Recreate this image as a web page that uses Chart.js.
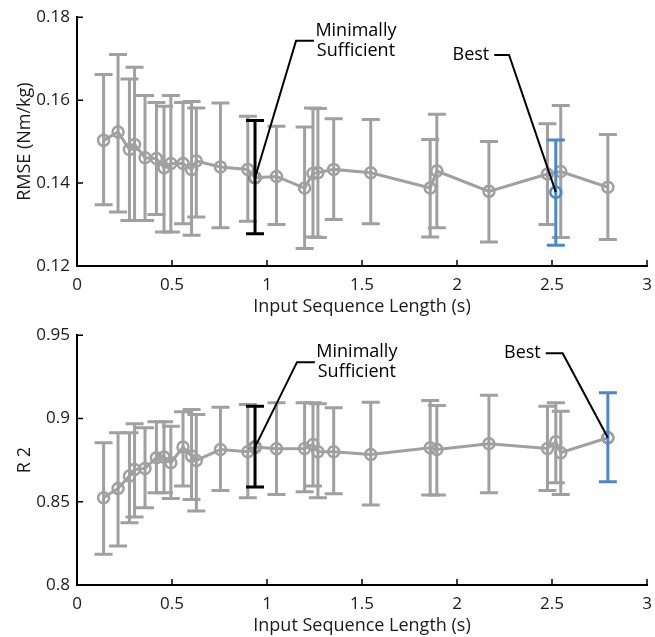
<!DOCTYPE html>
<html>
<head>
<meta charset="utf-8">
<script src="https://cdn.jsdelivr.net/npm/chart.js@4.4.1/dist/chart.umd.min.js"></script>
<style>
  html, body { margin: 0; padding: 0; background: #fff; }
  #wrap { position: relative; width: 655px; height: 637px; }
  canvas { position: absolute; left: 0; }
</style>
</head>
<body>
<div id="wrap">
  <canvas id="rmseChart" width="655" height="318" style="top:0"></canvas>
  <canvas id="r2Chart" width="655" height="319" style="top:318px"></canvas>
</div>
<script>
// sequence lengths (s), shared by both panels
const seqLen = [0.14, 0.216, 0.276, 0.303, 0.358, 0.418, 0.458, 0.494, 0.558, 0.603, 0.628, 0.755, 0.899, 0.937,
  1.05, 1.198, 1.242, 1.268, 1.351, 1.546, 1.859, 1.894, 2.168, 2.476, 2.52, 2.546, 2.794];

// RMSE (Nm/kg): mean and error bar ends
const rmseMean = [0.1503, 0.1523, 0.1481, 0.1493, 0.1461, 0.1459, 0.1437, 0.1447, 0.1447, 0.1433, 0.1453, 0.1439, 0.1433, 0.1413,
  0.1416, 0.1388, 0.1423, 0.1425, 0.1433, 0.1425, 0.1388, 0.1429, 0.1380, 0.1422, 0.1378, 0.1428, 0.1390];
const rmseHi = [0.1662, 0.1710, 0.1651, 0.1679, 0.1611, 0.1594, 0.1585, 0.1611, 0.1594, 0.1597, 0.1581, 0.1593, 0.1561, 0.1551,
  0.1537, 0.1535, 0.1581, 0.1580, 0.1555, 0.1553, 0.1505, 0.1566, 0.1500, 0.1543, 0.1504, 0.1587, 0.1517];
const rmseLo = [0.1348, 0.1330, 0.1310, 0.1310, 0.1310, 0.1324, 0.1282, 0.1282, 0.1302, 0.1274, 0.1318, 0.1292, 0.1308, 0.1278,
  0.1300, 0.1242, 0.1270, 0.1269, 0.1312, 0.1302, 0.1270, 0.1292, 0.1258, 0.1300, 0.1250, 0.1269, 0.1264];

// R^2: mean and error bar ends
const r2Mean = [0.8524, 0.8580, 0.8654, 0.8694, 0.8700, 0.8764, 0.8768, 0.8734, 0.8828, 0.8774, 0.8748, 0.8814, 0.8800, 0.8828,
  0.8818, 0.8820, 0.8844, 0.8800, 0.8800, 0.8784, 0.8824, 0.8814, 0.8848, 0.8820, 0.8860, 0.8794, 0.8884];
const r2Hi = [0.8854, 0.8914, 0.8914, 0.8968, 0.8944, 0.8980, 0.8980, 0.8954, 0.9040, 0.9054, 0.9024, 0.9068, 0.9084, 0.9074,
  0.9094, 0.9094, 0.9094, 0.9088, 0.9064, 0.9098, 0.9108, 0.9078, 0.9140, 0.9074, 0.9094, 0.9044, 0.9154];
const r2Lo = [0.8184, 0.8234, 0.8374, 0.8408, 0.8464, 0.8554, 0.8554, 0.8520, 0.8594, 0.8514, 0.8444, 0.8568, 0.8524, 0.8588,
  0.8544, 0.8560, 0.8594, 0.8524, 0.8548, 0.8480, 0.8540, 0.8540, 0.8554, 0.8568, 0.8614, 0.8544, 0.8620];

// highlighted models
const minSuffIdx = 13;
const bestRmseIdx = 24;
const bestR2Idx = 26;

// tick values and labels
const xTicks = [0, 0.5, 1, 1.5, 2, 2.5, 3];
const xTickLabels = ['0', '0.5', '1', '1.5', '2', '2.5', '3'];
const rmseTicks = [0.12, 0.14, 0.16, 0.18];
const rmseTickLabels = ['0.12', '0.14', '0.16', '0.18'];
const r2Ticks = [0.8, 0.85, 0.9, 0.95];
const r2TickLabels = ['0.8', '0.85', '0.9', '0.95'];

const GRAY = '#a0a0a0';
const BLUE = '#4a88c9';
const BLACK = '#000000';
const FONT = '"Open Sans", "DejaVu Sans", sans-serif';
const TICK_SIZE = 17;
const TEXT_SIZE = 18;

// error bars drawn through the chart's own scales
const errorBarPlugin = {
  id: 'errorBars',
  drawBar(chart, i, color) {
    const { ctx, scales: { x, y } } = chart;
    const eb = chart.options.plugins.errorBars;
    const px = x.getPixelForValue(seqLen[i]);
    const top = y.getPixelForValue(eb.hi[i]);
    const bot = y.getPixelForValue(eb.lo[i]);
    ctx.save();
    ctx.strokeStyle = color;
    ctx.lineWidth = 3;
    ctx.beginPath();
    ctx.moveTo(px, top); ctx.lineTo(px, bot);
    ctx.moveTo(px - 9, top); ctx.lineTo(px + 9, top);
    ctx.moveTo(px - 9, bot); ctx.lineTo(px + 9, bot);
    ctx.stroke();
    ctx.restore();
  },
  beforeDatasetsDraw(chart) {
    const eb = chart.options.plugins.errorBars;
    const marked = eb.marks.map(m => m.idx);
    seqLen.forEach((v, i) => {
      if (!marked.includes(i)) this.drawBar(chart, i, GRAY);
    });
  },
  afterDatasetsDraw(chart) {
    const eb = chart.options.plugins.errorBars;
    eb.marks.forEach(m => this.drawBar(chart, m.idx, m.color));
  }
};

// inward tick marks and the callout annotations
const axisPlugin = {
  id: 'inTicks',
  afterDraw(chart) {
    const { ctx, scales: { x, y }, chartArea } = chart;
    ctx.save();
    ctx.strokeStyle = BLACK;
    ctx.lineWidth = 1.5;
    ctx.beginPath();
    x.ticks.forEach(t => {
      const px = x.getPixelForValue(t.value);
      ctx.moveTo(px, chartArea.bottom); ctx.lineTo(px, chartArea.bottom - 6);
    });
    y.ticks.forEach(t => {
      const py = y.getPixelForValue(t.value);
      ctx.moveTo(chartArea.left, py); ctx.lineTo(chartArea.left + 6, py);
    });
    ctx.stroke();

    const callouts = chart.options.plugins.inTicks.callouts;
    ctx.font = TEXT_SIZE + 'px ' + FONT;
    ctx.fillStyle = BLACK;
    ctx.lineWidth = 2;
    callouts.forEach(c => {
      const tx = x.getPixelForValue(seqLen[c.idx]);
      const ty = y.getPixelForValue(c.yVal);
      const ex = x.getPixelForValue(c.elbow[0]);
      const ey = y.getPixelForValue(c.elbow[1]);
      const fx = x.getPixelForValue(c.end[0]);
      ctx.beginPath();
      ctx.moveTo(tx, ty); ctx.lineTo(ex, ey); ctx.lineTo(fx, ey);
      ctx.stroke();
      ctx.textBaseline = 'middle';
      if (c.side === 'right') {
        ctx.textAlign = 'center';
        const cx = fx + 42;
        ctx.fillText(c.text[0], cx, ey - 10);
        ctx.fillText(c.text[1], cx, ey + 10);
      } else {
        ctx.textAlign = 'right';
        ctx.fillText(c.text[0], fx - 5, ey);
      }
    });
    ctx.restore();
  }
};

function makeChart(canvasId, mean, lo, hi, skipIdx, marks, yMin, yMax, yTicks, yLabels, yTitle, callouts) {
  const lineData = seqLen.map((v, i) => ({ x: v, y: skipIdx.includes(i) ? null : mean[i] }));
  const datasets = [{
    data: lineData,
    borderColor: GRAY,
    borderWidth: 3,
    pointRadius: 5.5,
    pointBorderWidth: 2.5,
    pointBorderColor: GRAY,
    pointBackgroundColor: 'rgba(0,0,0,0)',
    spanGaps: true,
    tension: 0
  }];
  marks.forEach(m => {
    datasets.push({
      data: [{ x: seqLen[m.idx], y: mean[m.idx] }],
      showLine: false,
      pointRadius: 5.5,
      pointBorderWidth: 2.5,
      pointBorderColor: m.color,
      pointBackgroundColor: 'rgba(0,0,0,0)'
    });
  });

  return new Chart(document.getElementById(canvasId).getContext('2d'), {
    type: 'line',
    data: { datasets },
    plugins: [errorBarPlugin, axisPlugin],
    options: {
      responsive: false,
      animation: false,
      devicePixelRatio: 1,
      layout: { padding: { top: 15, right: 3, left: 0, bottom: 0 } },
      plugins: {
        legend: { display: false },
        tooltip: { enabled: false },
        errorBars: { lo, hi, marks },
        inTicks: { callouts }
      },
      scales: {
        x: {
          type: 'linear',
          min: 0,
          max: 3,
          afterBuildTicks: s => { s.ticks = xTicks.map(v => ({ value: v })); },
          afterFit: s => { s.height = 52; s.paddingLeft = 0; s.paddingRight = 0; },
          ticks: {
            callback: v => xTickLabels[xTicks.indexOf(v)],
            font: { family: FONT, size: TICK_SIZE },
            color: '#1a1a1a',
            padding: 9,
            maxRotation: 0,
            autoSkip: false
          },
          grid: { display: false, drawTicks: false },
          border: { color: BLACK, width: 2 },
          title: {
            display: true,
            text: 'Input Sequence Length (s)',
            font: { family: FONT, size: TEXT_SIZE },
            color: '#1a1a1a',
            padding: { top: 0, bottom: 0 }
          }
        },
        y: {
          min: yMin,
          max: yMax,
          afterBuildTicks: s => { s.ticks = yTicks.map(v => ({ value: v })); },
          afterFit: s => { s.width = 77; },
          ticks: {
            callback: v => yLabels[yTicks.indexOf(v)],
            font: { family: FONT, size: TICK_SIZE },
            color: '#1a1a1a',
            padding: 7
          },
          grid: { display: false, drawTicks: false },
          border: { color: BLACK, width: 2 },
          title: {
            display: true,
            text: yTitle,
            font: { family: FONT, size: TEXT_SIZE },
            color: '#1a1a1a',
            padding: { top: 14, bottom: 0 }
          }
        }
      }
    }
  });
}

makeChart('rmseChart', rmseMean, rmseLo, rmseHi, [bestRmseIdx],
  [{ idx: minSuffIdx, color: BLACK }, { idx: bestRmseIdx, color: BLUE }],
  0.12, 0.18, rmseTicks, rmseTickLabels, 'RMSE (Nm/kg)',
  [
    { idx: minSuffIdx, yVal: rmseMean[minSuffIdx], elbow: [1.153, 0.1743], end: [1.247], side: 'right', text: ['Minimally', 'Sufficient'] },
    { idx: bestRmseIdx, yVal: rmseMean[bestRmseIdx], elbow: [2.274, 0.1709], end: [2.196], side: 'left', text: ['Best'] }
  ]);

makeChart('r2Chart', r2Mean, r2Lo, r2Hi, [],
  [{ idx: minSuffIdx, color: BLACK }, { idx: bestR2Idx, color: BLUE }],
  0.8, 0.95, r2Ticks, r2TickLabels, 'R 2',
  [
    { idx: minSuffIdx, yVal: r2Mean[minSuffIdx], elbow: [1.158, 0.9338], end: [1.252], side: 'right', text: ['Minimally', 'Sufficient'] },
    { idx: bestR2Idx, yVal: r2Mean[bestR2Idx], elbow: [2.556, 0.9392], end: [2.467], side: 'left', text: ['Best'] }
  ]);
</script>
</body>
</html>
